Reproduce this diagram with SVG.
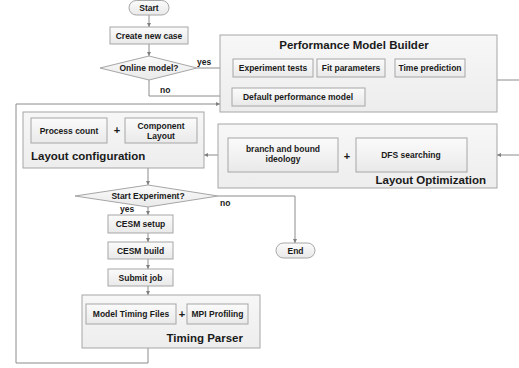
<svg xmlns="http://www.w3.org/2000/svg" width="519" height="368" viewBox="0 0 519 368">
  <defs>
    <linearGradient id="boxFill" x1="0" y1="0" x2="0" y2="1">
      <stop offset="0" stop-color="#fbfbfb"/>
      <stop offset="1" stop-color="#e9e9e9"/>
    </linearGradient>
    <linearGradient id="groupFill" x1="0" y1="0" x2="0" y2="1">
      <stop offset="0" stop-color="#f7f7f7"/>
      <stop offset="1" stop-color="#ededed"/>
    </linearGradient>
    <marker id="arr" viewBox="0 0 6 6" refX="6" refY="3" markerWidth="4" markerHeight="4" orient="auto" markerUnits="userSpaceOnUse">
      <path d="M0,0 L6,3 L0,6 z" fill="#7f7f7f"/>
    </marker>
  </defs>
  <style>
    .box { fill: url(#boxFill); stroke: #a6a6a6; stroke-width: 1; }
    .grp { fill: url(#groupFill); stroke: #a6a6a6; stroke-width: 1; }
    .t { font-family: "Liberation Sans", Arial, sans-serif; font-weight: bold; font-size: 8.5px; fill: #1a1a1a; text-anchor: middle; }
    .title { font-family: "Liberation Sans", Arial, sans-serif; font-weight: bold; font-size: 11.5px; fill: #1a1a1a; }
    .plus { font-family: "Liberation Sans", Arial, sans-serif; font-weight: bold; font-size: 11px; fill: #1a1a1a; text-anchor: middle; }
    .lbl { font-family: "Liberation Sans", Arial, sans-serif; font-weight: bold; font-size: 8.5px; fill: #1a1a1a; }
    .ln { fill: none; stroke: #8c8c8c; stroke-width: 1; }
    .la { fill: none; stroke: #8c8c8c; stroke-width: 1; marker-end: url(#arr); }
  </style>
  <rect width="519" height="368" fill="#ffffff"/>

  <!-- connectors -->
  <g id="connectors">
    <path class="la" d="M149,15 V27"/>
    <path class="la" d="M149,44 V56"/>
    <path class="la" d="M197,68 H233"/>
    <path class="la" d="M149,80 V96 H232"/>
    <path class="la" d="M313,68 H317"/>
    <path class="la" d="M385,68 H395"/>
    <path class="ln" d="M465,68 H485 V96 H365"/>
    <path class="ln" d="M485,80 H519"/>
    <path class="la" d="M519,155 H497"/>
    <path class="la" d="M228,155 H204"/>
    <path class="la" d="M148,168 V185"/>
    <path class="la" d="M218,196 H295 V243"/>
    <path class="la" d="M148,207 V215"/>
    <path class="la" d="M148,233 V242"/>
    <path class="la" d="M148,259 V269"/>
    <path class="la" d="M148,286 V295"/>
    <path class="la" d="M148,348 V363 H16 V104 H220"/>
  </g>

  <!-- edge labels -->
  <g id="labels">
    <text class="lbl" x="197" y="65">yes</text>
    <text class="lbl" x="160" y="93">no</text>
    <text class="lbl" x="220" y="206">no</text>
    <text class="lbl" x="120" y="212">yes</text>
  </g>

  <g id="start">
    <rect class="box" x="129" y="0.5" width="40" height="14.5" rx="7.25"/>
    <text class="t" x="149" y="11">Start</text>
  </g>

  <g id="create-case">
    <rect class="box" x="110" y="27" width="78" height="17"/>
    <text class="t" x="149" y="38.5">Create new case</text>
  </g>

  <g id="online-model">
    <polygon class="box" points="149,56 197,68 149,80 100,68"/>
    <text class="t" x="149" y="71">Online model?</text>
  </g>

  <g id="perf-model-builder">
    <rect class="grp" x="220" y="35" width="277" height="77"/>
    <text class="title" x="354" y="49" text-anchor="middle">Performance Model Builder</text>
    <g id="experiment-tests">
      <rect class="box" x="233" y="59" width="80" height="18"/>
      <text class="t" x="273" y="71">Experiment tests</text>
    </g>
    <g id="fit-parameters">
      <rect class="box" x="317" y="59" width="68" height="18"/>
      <text class="t" x="351" y="71">Fit parameters</text>
    </g>
    <g id="time-prediction">
      <rect class="box" x="395" y="59" width="70" height="18"/>
      <text class="t" x="430" y="71">Time prediction</text>
    </g>
    <g id="default-model">
      <rect class="box" x="232" y="88" width="133" height="18"/>
      <text class="t" x="298" y="100">Default performance model</text>
    </g>
  </g>

  <g id="layout-configuration">
    <rect class="grp" x="23" y="112" width="181" height="56"/>
    <g id="process-count">
      <rect class="box" x="31" y="118" width="76" height="25"/>
      <text class="t" x="69" y="133.5">Process count</text>
    </g>
    <text class="plus" x="117" y="134">+</text>
    <g id="component-layout">
      <rect class="box" x="125" y="118" width="72" height="25"/>
      <text class="t" x="161" y="128.5">Component</text>
      <text class="t" x="161" y="138.5">Layout</text>
    </g>
    <text class="title" x="31" y="160">Layout configuration</text>
  </g>

  <g id="layout-optimization">
    <rect class="grp" x="218" y="124" width="279" height="64"/>
    <g id="branch-bound">
      <rect class="box" x="228" y="138" width="110" height="34"/>
      <text class="t" x="283" y="151.5">branch and bound</text>
      <text class="t" x="283" y="161.5">ideology</text>
    </g>
    <text class="plus" x="347" y="160">+</text>
    <g id="dfs-searching">
      <rect class="box" x="356" y="138" width="111" height="34"/>
      <text class="t" x="411" y="158">DFS searching</text>
    </g>
    <text class="title" x="486" y="184" text-anchor="end">Layout Optimization</text>
  </g>

  <g id="start-experiment">
    <polygon class="box" points="148,185 218,196 148,207 75,196"/>
    <text class="t" x="148" y="199">Start Experiment?</text>
  </g>

  <g id="end">
    <rect class="box" x="276" y="243" width="39" height="15" rx="7.5"/>
    <text class="t" x="295.5" y="253.5">End</text>
  </g>

  <g id="cesm-setup">
    <rect class="box" x="108" y="215" width="65" height="18"/>
    <text class="t" x="140.5" y="227">CESM setup</text>
  </g>

  <g id="cesm-build">
    <rect class="box" x="108" y="242" width="65" height="17"/>
    <text class="t" x="140.5" y="253.5">CESM build</text>
  </g>

  <g id="submit-job">
    <rect class="box" x="108" y="269" width="65" height="17"/>
    <text class="t" x="140.5" y="280.5">Submit job</text>
  </g>

  <g id="timing-parser">
    <rect class="grp" x="82" y="295" width="178" height="53"/>
    <g id="model-timing-files">
      <rect class="box" x="86" y="304" width="90" height="20"/>
      <text class="t" x="131" y="317">Model Timing Files</text>
    </g>
    <text class="plus" x="182" y="318">+</text>
    <g id="mpi-profiling">
      <rect class="box" x="187" y="304" width="61" height="20"/>
      <text class="t" x="217.5" y="317">MPI Profiling</text>
    </g>
    <text class="title" x="243" y="342" text-anchor="end">Timing Parser</text>
  </g>
</svg>
